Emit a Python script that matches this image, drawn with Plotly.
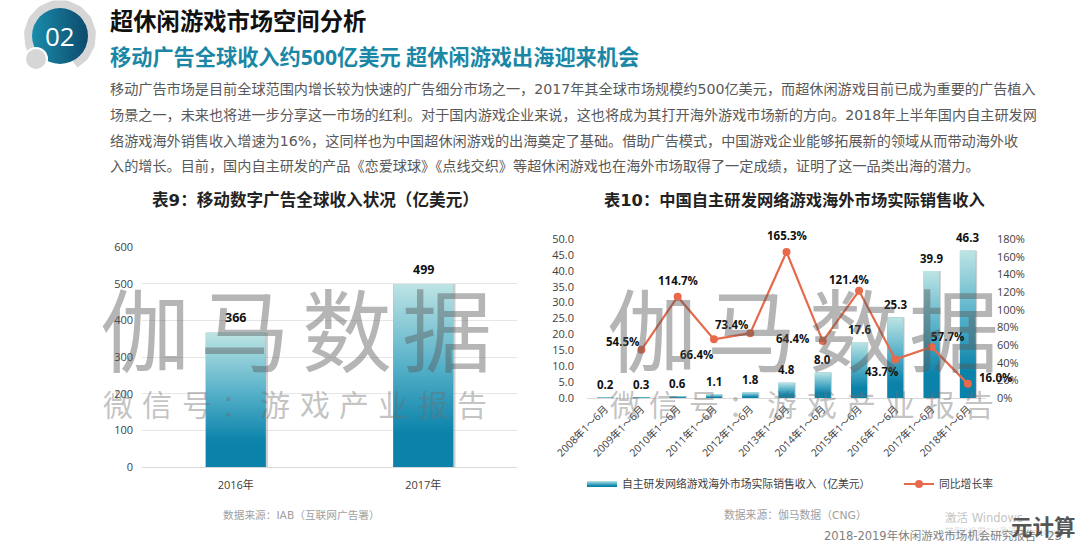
import numpy as np
import plotly.graph_objects as go

W, H = 1080, 546
CJK = "DejaVu Sans, Noto Sans CJK SC"
LATIN = "Open Sans, Noto Sans CJK SC"

# left chart
ad_years = ["2016年", "2017年"]
ad_revenue = [366, 499]

# right chart
game_periods = ["2008年1～6月", "2009年1～6月", "2010年1～6月", "2011年1～6月", "2012年1～6月", "2013年1～6月",
                "2014年1～6月", "2015年1～6月", "2016年1～6月", "2017年1～6月", "2018年1～6月"]
game_revenue = [0.2, 0.3, 0.6, 1.1, 1.8, 4.8, 8.0, 17.6, 25.3, 39.9, 46.3]
game_growth = [None, 54.5, 114.7, 66.4, 73.4, 165.3, 64.4, 121.4, 43.7, 57.7, 16.0]
# label nudges in pixels, the labels sit around the markers by hand in the original
growth_shift_x = [0, -19, 0, -17, -19, 0, -30, -10, -14, 16, 28]
growth_shift_y = [0, 8, 16, -15, 9, 16, 3, 11, -12, 11, 6]

body_lines = [
    "移动广告市场是目前全球范围内增长较为快速的广告细分市场之一，2017年其全球市场规模约500亿美元，而超休闲游戏目前已成为重要的广告植入",
    "场景之一，未来也将进一步分享这一市场的红利。对于国内游戏企业来说，这也将成为其打开海外游戏市场新的方向。2018年上半年国内自主研发网",
    "络游戏海外销售收入增速为16%，这同样也为中国超休闲游戏的出海奠定了基础。借助广告模式，中国游戏企业能够拓展新的领域从而带动海外收",
    "入的增长。目前，国内自主研发的产品《恋爱球球》《点线交织》等超休闲游戏也在海外市场取得了一定成绩，证明了这一品类出海的潜力。",
]

BAR_SCALE = [[0, "#0a82aa"], [0.18, "#0a82aa"], [0.55, "#55b0c8"], [1, "#bde4e4"]]


def px(x):
    return x / W


def py(y):
    return 1 - y / H


def label(text, x, y, size, color, bold=False, anchor="left", family=CJK):
    fig.add_annotation(text=f"<b>{text}</b>" if bold else text, xref="paper", yref="paper", x=px(x), y=py(y),
                       xanchor=anchor, yanchor="middle", showarrow=False,
                       font=dict(size=size, color=color, family=family))


def add_bars(xs, values, half, xaxis, yaxis, shadow_dx, name=None):
    # shadow and base bar, the gradient does not exist on go.Bar so it goes on top as a filled scatter
    fig.add_trace(go.Bar(x=xs, y=values, width=half * 2, offset=-half + shadow_dx, xaxis=xaxis, yaxis=yaxis,
                         marker=dict(color="rgba(120,120,120,0.35)", line_width=0), showlegend=False,
                         hoverinfo="skip"))
    fig.add_trace(go.Bar(x=xs, y=values, width=half * 2, offset=-half, xaxis=xaxis, yaxis=yaxis,
                         marker=dict(color="#55b0c8", line_width=0), showlegend=False))
    for i, (x, v) in enumerate(zip(xs, values)):
        fig.add_trace(go.Scatter(x=[x - half, x - half, x + half, x + half, x - half], y=[0, v, v, 0, 0],
                                 xaxis=xaxis, yaxis=yaxis, mode="none", fill="toself",
                                 fillgradient=dict(type="vertical", colorscale=BAR_SCALE, start=0, stop=v),
                                 name=name, showlegend=bool(name) and i == len(xs) - 1, hoverinfo="skip"))


fig = go.Figure()

ad_x = list(range(len(ad_years)))
game_x = list(range(len(game_periods)))

add_bars(ad_x, ad_revenue, 0.16, "x", "y", 0.012)
add_bars(game_x, game_revenue, 0.22, "x2", "y2", 0.035, name="自主研发网络游戏海外市场实际销售收入（亿美元）")

fig.add_trace(go.Scatter(x=game_x, y=game_growth, xaxis="x2", yaxis="y3", mode="lines+markers", name="同比增长率",
                         legend="legend2", line=dict(color="#e56a4c", width=2.2),
                         marker=dict(color="#e8694c", size=8)))

# logo, drawn on a hidden axis pair measured in pixels
angles = np.radians(np.linspace(-62, 205, 80))
fig.add_trace(go.Scatter(x=60 + 32 * np.cos(angles), y=36 - 32 * np.sin(angles), xaxis="x4", yaxis="y4", mode="lines",
                         line=dict(color="#d6d6d6", width=8), showlegend=False, hoverinfo="skip"))
fig.add_trace(go.Scatter(x=[60], y=[36], xaxis="x4", yaxis="y4", mode="markers", showlegend=False, hoverinfo="skip",
                         marker=dict(size=56, color="#1a8cab", gradient=dict(type="horizontal", color="#0d4a6c"))))
fig.add_trace(go.Scatter(x=[36], y=[59], xaxis="x4", yaxis="y4", mode="markers", showlegend=False, hoverinfo="skip",
                         marker=dict(size=22, color="#d6d6d6", line=dict(color="white", width=2))))

fig.update_layout(
    template="none", width=W, height=H, margin=dict(l=0, r=0, t=0, b=0), paper_bgcolor="white",
    plot_bgcolor="rgba(0,0,0,0)", barmode="overlay", font=dict(family=LATIN, color="#404040", size=11),
    legend=dict(x=px(582), y=py(484), xanchor="left", yanchor="middle", bgcolor="rgba(0,0,0,0)",
                font=dict(size=10.8, color="#404040", family=CJK), itemwidth=30),
    legend2=dict(x=px(899), y=py(484), xanchor="left", yanchor="middle", bgcolor="rgba(0,0,0,0)",
                 font=dict(size=10.8, color="#404040", family=CJK), itemwidth=30),
    xaxis=dict(domain=[px(142), px(517)], range=[-0.5, 1.5], tickvals=ad_x, ticktext=ad_years, showgrid=False,
               showline=True, linecolor="#d9d9d9", ticks="", anchor="y", zeroline=False, ticklabelstandoff=8),
    yaxis=dict(domain=[py(467), py(247)], range=[0, 600], dtick=100, gridcolor="#e6e6e6", zeroline=False, anchor="x",
               ticks="", ticklabelstandoff=8, tickfont=dict(size=11)),
    xaxis2=dict(domain=[px(587), px(986)], range=[-0.5, 10.5], tickvals=game_x, ticktext=game_periods, tickangle=-45,
                showgrid=False, showline=True, linecolor="#d9d9d9", ticks="", anchor="y2", zeroline=False,
                tickfont=dict(size=10.4)),
    yaxis2=dict(domain=[py(398), py(239)], range=[0, 50], dtick=5, tickformat=".1f", showgrid=False, zeroline=False,
                anchor="x2", ticks="", ticklabelstandoff=12, tickfont=dict(size=11)),
    yaxis3=dict(domain=[py(398), py(239)], range=[0, 180], dtick=20, ticksuffix="%", showgrid=False, zeroline=False,
                anchor="x2", overlaying="y2", side="right", ticks="", ticklabelstandoff=10, tickfont=dict(size=11)),
    xaxis4=dict(domain=[0, 1], range=[0, W], visible=False, anchor="y4"),
    yaxis4=dict(domain=[0, 1], range=[H, 0], visible=False, anchor="x4"),
)

# data labels
for x, v in zip(ad_x, ad_revenue):
    fig.add_annotation(text=f"<b>{v}</b>", x=x, y=v, xref="x", yref="y", yanchor="middle", yshift=15, showarrow=False,
                       font=dict(size=12.5, color="#111111", family=LATIN))
for x, v in zip(game_x, game_revenue):
    fig.add_annotation(text=f"<b>{v:.1f}</b>", x=x, y=v, xref="x2", yref="y2", yanchor="middle", yshift=13,
                       showarrow=False, font=dict(size=11.5, color="#111111", family=LATIN))
for x, v, dx, dy in zip(game_x, game_growth, growth_shift_x, growth_shift_y):
    if v is not None:
        fig.add_annotation(text=f"<b>{v:.1f}%</b>", x=x, y=v, xref="x2", yref="y3", yanchor="middle", xshift=dx,
                           yshift=dy, showarrow=False, font=dict(size=11.5, color="#111111", family=LATIN))

# header and body
label("02", 60, 36, 26, "white", anchor="center", family="Open Sans")
label("超休闲游戏市场空间分析", 108, 22, 23.3, "#111111", bold=True)
label("移动广告全球收入约500亿美元 超休闲游戏出海迎来机会", 108, 57, 21.2, "#1b87a6", bold=True, family=LATIN)
for line, y in zip(body_lines, [89, 115, 141, 166]):
    label(line, 108, y, 14.15, "#595959")

label("表9：移动数字广告全球收入状况（亿美元）", 315, 200, 16.6, "#222222", bold=True, anchor="center")
label("表10：中国自主研发网络游戏海外市场实际销售收入", 794, 200, 16.3, "#222222", bold=True, anchor="center")

label("数据来源：IAB（互联网广告署）", 301, 515, 10.7, "#a0a0a0", anchor="center")
label("数据来源：伽马数据（CNG）", 795, 515, 10.8, "#a0a0a0", anchor="center")
label("激活 Windows", 943, 518, 11.5, "#c4c4c4")
label("转到“设置”以激活 Windows。", 943, 531, 9, "#dcdcdc")
label("2018-2019年休闲游戏市场机会研究报告 · 23", 822, 536, 11.5, "#808080")
label("元计算", 1009, 527, 21.5, "#555555", bold=True)

# watermarks over both charts
for offset in [0, 507]:
    for ch, x in zip("伽马数据", [145, 245, 347, 447]):
        label(ch, x + offset, 333, 90, "rgba(90,90,90,0.45)", anchor="center")
    for ch, x in zip("微信号：游戏产业报告", np.linspace(118, 472, 10)):
        label(ch, x + offset, 405, 30, "rgba(110,110,110,0.42)", anchor="center")

fig.write_html("out.html", config=dict(displayModeBar=False), post_script="document.body.style.margin='0';")
